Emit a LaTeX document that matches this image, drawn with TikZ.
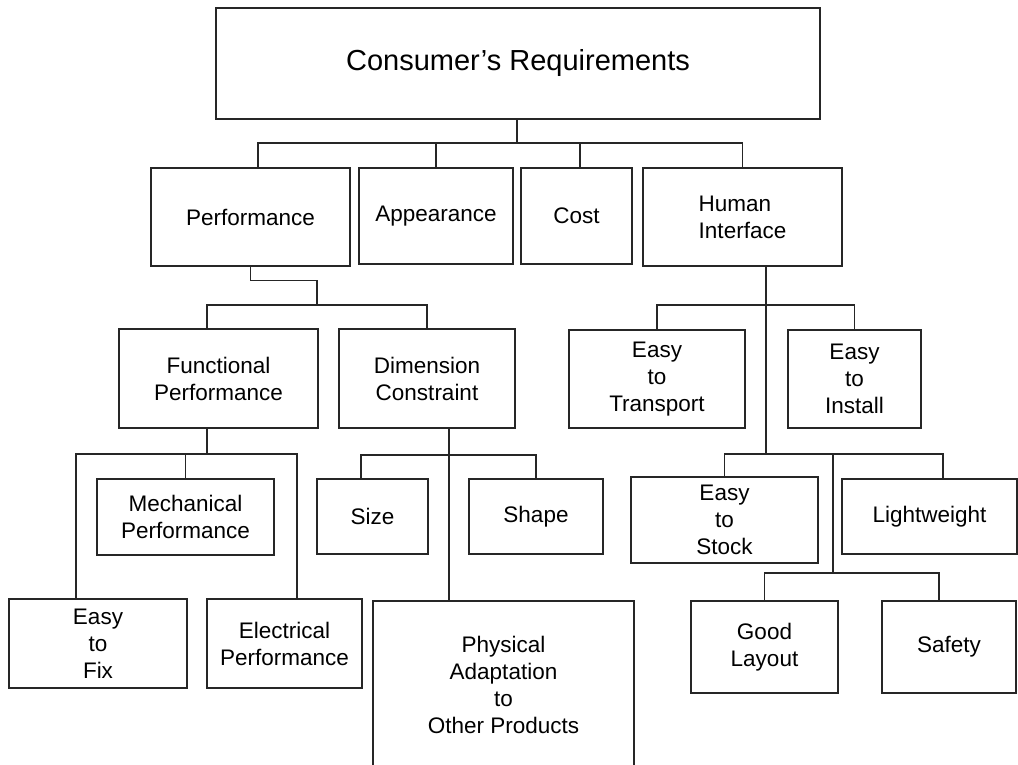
\documentclass[tikz,border=0pt]{standalone}
\usepackage{fontspec}
\setmainfont{Liberation Sans}
\usepackage{tikz}

\begin{document}
\begin{tikzpicture}[x=1pt,y=-1pt,
  box/.style={draw=black!85,line width=1.3pt,inner sep=0pt,align=center,
    font=\fontsize{22.5}{27}\selectfont},
  link/.style={draw=black!85,line width=1.3pt}]
  \useasboundingbox (0,0) rectangle (1018,765);
  \clip (0,0) rectangle (1018,765);
  \fill[white] (0,0) rectangle (1018,765);

  % --- Top level ---
  \node[box,minimum width=604,minimum height=111,font=\fontsize{29}{34}\selectfont]
    (req) at (518,63.5) {Consumer’s Requirements};

  % --- Second level ---
  \node[box,minimum width=199,minimum height=98] (perf) at (250.5,217) {Performance};
  \node[box,minimum width=154,minimum height=96] (app) at (436,216) {Appearance};
  \node[box,minimum width=111,minimum height=96] (cost) at (576.5,216) {Cost};
  \node[box,align=left,minimum width=199,minimum height=98] (human) at (742.5,217) {Human\\Interface};

  % --- Performance branch ---
  \node[box,minimum width=199,minimum height=99] (func) at (218.5,378.5) {Functional\\Performance};
  \node[box,minimum width=176,minimum height=99] (dim) at (427,378.5) {Dimension\\Constraint};
  \node[box,minimum width=177,minimum height=76] (mech) at (185.5,517) {Mechanical\\Performance};
  \node[box,minimum width=178,minimum height=89] (fix) at (98,643.5) {Easy\\to\\Fix};
  \node[box,minimum width=155,minimum height=89] (elec) at (284.5,643.5) {Electrical\\Performance};
  \node[box,minimum width=111,minimum height=75] (size) at (372.5,516.5) {Size};
  \node[box,minimum width=134,minimum height=75] (shape) at (536,516.5) {Shape};
  \node[box,minimum width=261,minimum height=168] (phys) at (503.5,685)
    {Physical\\Adaptation\\to\\Other Products};

  % --- Human interface branch ---
  \node[box,minimum width=176,minimum height=98] (transport) at (657,379) {Easy\\to\\Transport};
  \node[box,minimum width=133,minimum height=98] (install) at (854.5,379) {Easy\\to\\Install};
  \node[box,minimum width=187,minimum height=86] (stock) at (724.5,520) {Easy\\to\\Stock};
  \node[box,minimum width=175,minimum height=75] (light) at (929.5,516.5) {Lightweight};
  \node[box,minimum width=147,minimum height=92] (layout) at (764.5,647) {Good\\Layout};
  \node[box,minimum width=134,minimum height=92] (safety) at (949,647) {Safety};

  % --- Junctions ---
  \coordinate (j1) at (517,143);
  \coordinate (j2) at (317,305);
  \coordinate (j3) at (207,454);
  \coordinate (j4) at (449,455);
  \coordinate (j5) at (766,305);
  \coordinate (j6) at (766,454);
  \coordinate (j7) at (833,454);
  \coordinate (j8) at (833,573);

  % --- Connectors: top level ---
  \draw[link] (j1 |- req.south) -- (j1);
  \draw[link] (j1) -| ([xshift=7.5]perf.north);
  \draw[link] (j1) -| (app.north);
  \draw[link] (j1) -| ([xshift=3.5]cost.north);
  \draw[link] (j1) -| (human.north);

  % --- Connectors: performance ---
  \draw[link] (perf.south) -- ++(0,14) -| (j2);
  \draw[link] (j2) -| ([xshift=-11.5]func.north);
  \draw[link] (j2) -| (dim.north);
  \draw[link] ([xshift=-11.5]func.south) -- (j3);
  \draw[link] (j3) -| ([xshift=-22]fix.north);
  \draw[link] (j3) -| (mech.north);
  \draw[link] (j3) -| ([xshift=12.5]elec.north);
  \draw[link] ([xshift=22]dim.south) -- (j4) -- (j4 |- phys.north);
  \draw[link] (j4) -| ([xshift=-11.5]size.north);
  \draw[link] (j4) -| (shape.north);

  % --- Connectors: human interface ---
  \draw[link] ([xshift=23.5]human.south) -- (j6);
  \draw[link] (j5) -| (transport.north);
  \draw[link] (j5) -| (install.north);
  \draw[link] (j6) -| (stock.north);
  \draw[link] (j6) -| ([xshift=13.5]light.north);
  \draw[link] (j7) -- (j8);
  \draw[link] (j8) -| (layout.north);
  \draw[link] (j8) -| ([xshift=-10]safety.north);
\end{tikzpicture}
\end{document}
